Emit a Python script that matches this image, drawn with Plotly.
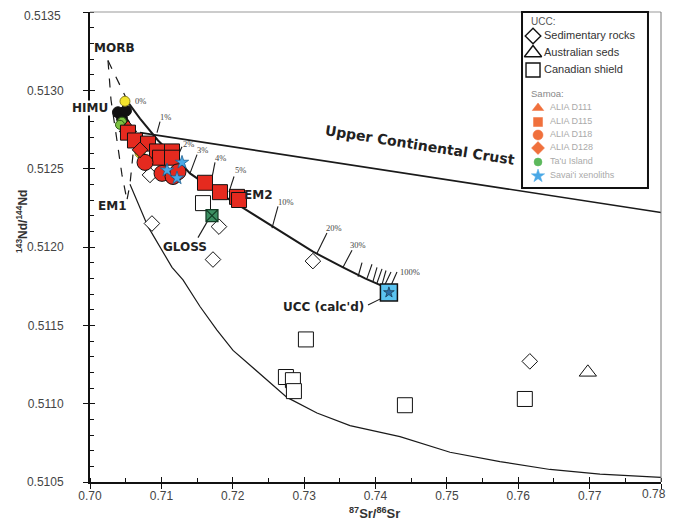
import plotly.graph_objects as go

# ---------------- data ----------------
# UCC compilations
sed_x = [0.70840, 0.70868, 0.71723, 0.71807, 0.73123, 0.76162]
sed_y = [0.51246, 0.51215, 0.51192, 0.51213, 0.51191, 0.51127]
aus_x = [0.76975]
aus_y = [0.51120]
can_x = [0.71583, 0.73025, 0.72745, 0.72843, 0.72857, 0.74412, 0.76092]
can_y = [0.51228, 0.51141, 0.51117, 0.51115, 0.51108, 0.51099, 0.51103]

# Samoa samples
d111_x = [0.70532]
d111_y = [0.51276]
d115_x = [0.70532, 0.70630, 0.70813, 0.70939, 0.70981, 0.71149, 0.71149, 0.71611, 0.71821, 0.72060, 0.72088]
d115_y = [0.51273, 0.51268, 0.51266, 0.51261, 0.51257, 0.51261, 0.51257, 0.51241, 0.51235, 0.51232, 0.51230]
d118_x = [0.70771, 0.71009, 0.71163, 0.71233]
d118_y = [0.51254, 0.51247, 0.51245, 0.51248]
d128_x = [0.70701]
d128_y = [0.51262]
tau_x = [0.70448, 0.70420]
tau_y = [0.51280, 0.51278]
sav_x = [0.71289, 0.71079, 0.71219]
sav_y = [0.51254, 0.51249, 0.51244]
blk_x = [0.70392, 0.70448, 0.70504, 0.70476]
blk_y = [0.51286, 0.51282, 0.51287, 0.51279]
yel_x = [0.70490, 0.70701]
yel_y = [0.51293, 0.51260]
gloss_x = [0.71709]
gloss_y = [0.51220]
uccc_x = [0.74188]
uccc_y = [0.51171]

# mantle-end-member field (dashed)
d1_x = [0.70252, 0.70518]
d1_y = [0.51319, 0.51294]
d2_x = [0.70252, 0.70294, 0.70378, 0.70448, 0.70518]
d2_y = [0.51319, 0.51294, 0.51268, 0.51246, 0.51230]
d3_x = [0.70602, 0.70560, 0.70518]
d3_y = [0.51259, 0.51240, 0.51230]

# lower envelope curve
env_x = [0.70560, 0.70813, 0.71149, 0.71303, 0.71541, 0.71779, 0.72004, 0.72480, 0.72760,
         0.73180, 0.73643, 0.74343, 0.75044, 0.75744, 0.76445, 0.77145, 0.78000]
env_y = [0.51240, 0.51213, 0.51187, 0.51179, 0.51162, 0.51147, 0.51134, 0.51115, 0.51104,
         0.51094, 0.51086, 0.51079, 0.51069, 0.51063, 0.51058, 0.51055, 0.51053]

# mixing line towards "Upper Continental Crust"
ucl_x = [0.70701, 0.78000]
ucl_y = [0.51273, 0.51222]

# mixing line towards UCC (calc'd)
mix_x = [0.70490, 0.70701, 0.70953, 0.71219, 0.71401, 0.71751, 0.72144, 0.72662,
         0.73124, 0.73545, 0.73853, 0.74203]
mix_y = [0.51295, 0.51282, 0.51268, 0.51256, 0.51247, 0.51236, 0.51225, 0.51210,
         0.51197, 0.51187, 0.51180, 0.51173]

# percentage ticks on the mixing line (base -> tip)
tick_bx = [0.70939, 0.71219, 0.71401, 0.71695, 0.71947, 0.72550, 0.73180, 0.73545,
           0.73755, 0.73881, 0.73965, 0.74021, 0.74091, 0.74133, 0.74203]
tick_by = [0.51273, 0.51257, 0.51247, 0.51241, 0.51235, 0.51212, 0.51196, 0.51187,
           0.51181, 0.51180, 0.51178, 0.51177, 0.51176, 0.51176, 0.51174]
tick_tx = [0.70981, 0.71289, 0.71499, 0.71751, 0.72018, 0.72634, 0.73320, 0.73671,
           0.73811, 0.73951, 0.74021, 0.74091, 0.74147, 0.74217, 0.74301]
tick_ty = [0.51280, 0.51264, 0.51259, 0.51254, 0.51245, 0.51226, 0.51209, 0.51198,
           0.51190, 0.51189, 0.51187, 0.51186, 0.51185, 0.51184, 0.51184]
pct_labels = ["0%", "1%", "2%", "3%", "4%", "5%", "10%", "20%", "30%", "100%"]
pct_x = [0.70701, 0.71051, 0.71373, 0.71583, 0.71835, 0.72102, 0.72746, 0.73419, 0.73755, 0.74483]
pct_y = [0.51293, 0.51283, 0.51266, 0.51262, 0.51257, 0.51249, 0.51229, 0.51212, 0.51201, 0.51184]

# end-member labels
em_labels = ["<b>MORB</b>", "<b>HIMU</b>", "<b>EM1</b>", "<b>EM2</b>", "<b>GLOSS</b>", "<b>UCC (calc'd)</b>"]
em_x = [0.70350, 0.70000, 0.70322, 0.72354, 0.71331, 0.73278]
em_y = [0.51327, 0.51289, 0.51226, 0.51233, 0.51200, 0.51162]

# leader lines (label -> point)
lead_x = [[0.71513, 0.71653], [0.73895, 0.74119]]
lead_y = [[0.51206, 0.51217], [0.51163, 0.51168]]

# axis ticks and labels
x_ticks = [0.70, 0.71, 0.72, 0.73, 0.74, 0.75, 0.76, 0.77, 0.78]
x_ticklabels = ["0.70", "0.71", "0.72", "0.73", "0.74", "0.75", "0.76", "0.77", "0.78"]
y_ticks = [0.5105, 0.5110, 0.5115, 0.5120, 0.5125, 0.5130, 0.5135]
y_ticklabels = ["0.5105", "0.5110", "0.5115", "0.5120", "0.5125", "0.5130", "0.5135"]

# legend content
legend_names = ["UCC:", "Sedimentary rocks", "Australian seds", "Canadian shield",
                "Samoa:", "ALIA D111", "ALIA D115", "ALIA D118", "ALIA D128",
                "Ta'u Island", "Savai'i xenoliths"]

x_range = [0.70, 0.78]
y_range = [0.5105, 0.5135]

# ---------------- styles ----------------
RED = "#e52a1f"
ORANGE = "#f0703c"
BLUE = "#4aa8e6"
LINE = "#1a1a1a"

fig = go.Figure()

def line(x, y, width=1.3, dash=None, color=LINE):
    fig.add_trace(go.Scatter(x=x, y=y, mode="lines", showlegend=False, hoverinfo="skip",
                             line=dict(color=color, width=width, dash=dash)))

line(d1_x, d1_y, 1.2, "dash")
line(d2_x, d2_y, 1.2, "dash")
line(d3_x, d3_y, 1.2, "dash")
line(env_x, env_y, 1.2)
line(ucl_x, ucl_y, 1.6)
line(mix_x, mix_y, 2.0)
for bx, by, tx, ty in zip(tick_bx, tick_by, tick_tx, tick_ty):
    line([bx, tx], [by, ty], 1.1)
for lx, ly in zip(lead_x, lead_y):
    line(lx, ly, 1.1)

def pts(x, y, symbol, size, fill, lc="#111111", lw=1.0):
    fig.add_trace(go.Scatter(x=x, y=y, mode="markers", showlegend=False, hoverinfo="skip",
                             marker=dict(symbol=symbol, size=size, color=fill,
                                         line=dict(color=lc, width=lw))))

# UCC data (open symbols with white fill)
pts(sed_x, sed_y, "diamond", 12, "white")
pts(aus_x, aus_y, "triangle-up", 15, "white")
pts(can_x, can_y, "square", 15, "white")
# other mantle points
pts(blk_x, blk_y, "circle", 11, "#111111")
pts(yel_x, yel_y, "circle", 10, "#f3e42c", "#8a8020")
pts(tau_x, tau_y, "circle", 9, "#7cc242", "#2d5a12")
# Samoa
pts(d111_x, d111_y, "triangle-up", 15, RED)
pts(d115_x, d115_y, "square", 15, RED)
pts(d118_x, d118_y, "circle", 16, RED)
pts(d128_x, d128_y, "diamond", 12, RED)
pts(sav_x, sav_y, "star", 10, BLUE, "#1d5f8f", 0.8)
pts(gloss_x, gloss_y, "square-x", 12, "#3c8f62", "#123a24", 1.2)
pts(uccc_x, uccc_y, "square", 17, "#5bc3f0", "#111111", 1.5)
pts(uccc_x, uccc_y, "star", 8, "#2a6fa8", "#112233", 0.6)

# dummy trace for overlay axes (cross tick marks)
fig.add_trace(go.Scatter(x=[None], y=[None], xaxis="x2", yaxis="y2", showlegend=False,
                         hoverinfo="skip"))

# ---------------- legend box (own small axis, units = pixels inside the box) ----------------
leg_rows = [10, 24, 41, 58, 83, 96, 110, 123, 136, 150, 164]
leg_sym = [None, "diamond-open", "triangle-up-open", "square-open", None,
           "triangle-up", "square", "circle", "diamond", "circle", "star"]
leg_col = [None, "#111", "#111", "#111", None, ORANGE, ORANGE, ORANGE, ORANGE, "#5cb85c", BLUE]
leg_size = [None, 12, 15, 14, None, 10, 9, 10, 10, 8, 10]
leg_mx = [None, 11, 11, 11, None, 16, 16, 16, 16, 16, 16]
leg_tx = [9, 22, 22, 22, 9, 28, 28, 28, 28, 28, 28]
leg_tc = ["#555", "#333", "#333", "#333", "#888", "#aaa", "#aaa", "#aaa", "#aaa", "#aaa", "#aaa"]
leg_fs = [10, 11, 11, 11, 9.5, 9, 9, 9, 9, 9, 9]

for i, name in enumerate(legend_names):
    if leg_sym[i] is not None:
        open_sym = leg_sym[i].endswith("-open")
        fig.add_trace(go.Scatter(
            x=[leg_mx[i]], y=[leg_rows[i]], xaxis="x3", yaxis="y3", mode="markers",
            showlegend=False, hoverinfo="skip",
            marker=dict(symbol=leg_sym[i], size=leg_size[i], color=leg_col[i],
                        line=dict(color=leg_col[i] if not open_sym else "#111",
                                  width=1.4 if open_sym else 0.5))))
    fig.add_trace(go.Scatter(
        x=[leg_tx[i]], y=[leg_rows[i]], xaxis="x3", yaxis="y3", mode="text",
        text=[name], textposition="middle right", showlegend=False, hoverinfo="skip",
        textfont=dict(family="Liberation Sans", size=leg_fs[i], color=leg_tc[i])))

LEG_X0, LEG_X1 = 0.7566, 0.9772
LEG_Y0, LEG_Y1 = 0.6255, 1.0

tickfont = dict(family="Liberation Sans", size=12, color="#444")

# ---------------- annotations ----------------
ann = []
for t, x, y in zip(em_labels, em_x, em_y):
    ann.append(dict(x=x, y=y, xref="x", yref="y", text=t, showarrow=False,
                    font=dict(family="DejaVu Sans", size=12, color="#222"),
                    bgcolor="white" if t == "<b>HIMU</b>" else None, borderpad=0))
for t, x, y in zip(pct_labels, pct_x, pct_y):
    ann.append(dict(x=x, y=y, xref="x", yref="y", text=t, showarrow=False,
                    font=dict(family="Liberation Serif", size=8.5, color="#444")))
ann.append(dict(x=0.74623, y=0.51265, xref="x", yref="y", text="<b>Upper Continental Crust</b>",
                showarrow=False, textangle=9,
                font=dict(family="DejaVu Sans", size=14, color="#222")))
ann.append(dict(x=-0.137, y=0.555, xref="paper", yref="paper", textangle=-90, showarrow=False,
                text="<b><sup>143</sup>Nd/<sup>144</sup>Nd</b>",
                font=dict(family="Liberation Sans", size=12, color="#333")))
ann.append(dict(x=0.499, y=-0.0866, xref="paper", yref="paper", showarrow=False,
                text="<b><sup>87</sup>Sr/<sup>86</sup>Sr</b>",
                font=dict(family="Liberation Sans", size=13, color="#333")))
# end tick labels kept fully inside the visible page
ann.append(dict(x=1, y=0, xref="paper", yref="paper", xanchor="right", yanchor="top",
                xshift=6, yshift=-4, showarrow=False, text=x_ticklabels[-1], font=tickfont,
                borderpad=0))
ann.append(dict(x=0, y=1, xref="paper", yref="paper", xanchor="right", yanchor="top",
                xshift=-28, yshift=4, showarrow=False, text=y_ticklabels[-1], font=tickfont,
                borderpad=0))

shapes = [
    dict(type="line", xref="paper", yref="paper", x0=0, x1=1, y0=1, y1=1,
         line=dict(color="#999", width=1)),
    dict(type="line", xref="paper", yref="paper", x0=1, x1=1, y0=0, y1=1,
         line=dict(color="#777", width=1)),
    dict(type="rect", xref="paper", yref="paper", x0=LEG_X0, x1=LEG_X1, y0=LEG_Y0, y1=LEG_Y1,
         line=dict(color="#111", width=2), fillcolor="rgba(0,0,0,0)"),
]

# the page body adds an 8 px offset; keep the page free of scrollbars by sizing the figure
fig.update_layout(
    width=667, height=514,
    margin=dict(l=82, r=14, t=4, b=40, autoexpand=False),
    paper_bgcolor="white", plot_bgcolor="white",
    showlegend=False,
    xaxis=dict(range=x_range, tickvals=x_ticks, ticktext=x_ticklabels[:-1] + [""],
               showgrid=False, zeroline=False,
               showline=True, linecolor="#111", linewidth=2, ticks="outside", ticklen=5,
               tickwidth=1.3, tickcolor="#111", tickfont=tickfont, automargin=False,
               ticklabelstandoff=-3, ticklabeloverflow="allow",
               minor=dict(dtick=0.005, ticks="inside", ticklen=4, tickwidth=1, tickcolor="#111")),
    yaxis=dict(range=y_range, tickvals=y_ticks, ticktext=y_ticklabels[:-1] + [""],
               showgrid=False, zeroline=False,
               showline=True, linecolor="#111", linewidth=2, ticks="outside", ticklen=5,
               tickwidth=1.3, tickcolor="#111", tickfont=tickfont, ticklabelstandoff=17,
               automargin=False, ticklabeloverflow="allow",
               minor=dict(dtick=0.0001, ticks="inside", ticklen=4, tickwidth=1, tickcolor="#111")),
    xaxis2=dict(range=x_range, overlaying="x", tickvals=x_ticks, showgrid=False, zeroline=False,
                showticklabels=False, ticks="inside", ticklen=5, tickwidth=1.3, tickcolor="#111",
                side="bottom", anchor="y2", automargin=False),
    yaxis2=dict(range=y_range, overlaying="y", tickvals=y_ticks, showgrid=False, zeroline=False,
                showticklabels=False, ticks="inside", ticklen=5, tickwidth=1.3, tickcolor="#111",
                side="left", anchor="x2", automargin=False),
    xaxis3=dict(domain=[LEG_X0, LEG_X1], range=[0, 126], anchor="y3", visible=False,
                fixedrange=True),
    yaxis3=dict(domain=[LEG_Y0, LEG_Y1], range=[176, 0], anchor="x3", visible=False,
                fixedrange=True),
    annotations=ann,
    shapes=shapes,
)

fig.write_html("out.html")
